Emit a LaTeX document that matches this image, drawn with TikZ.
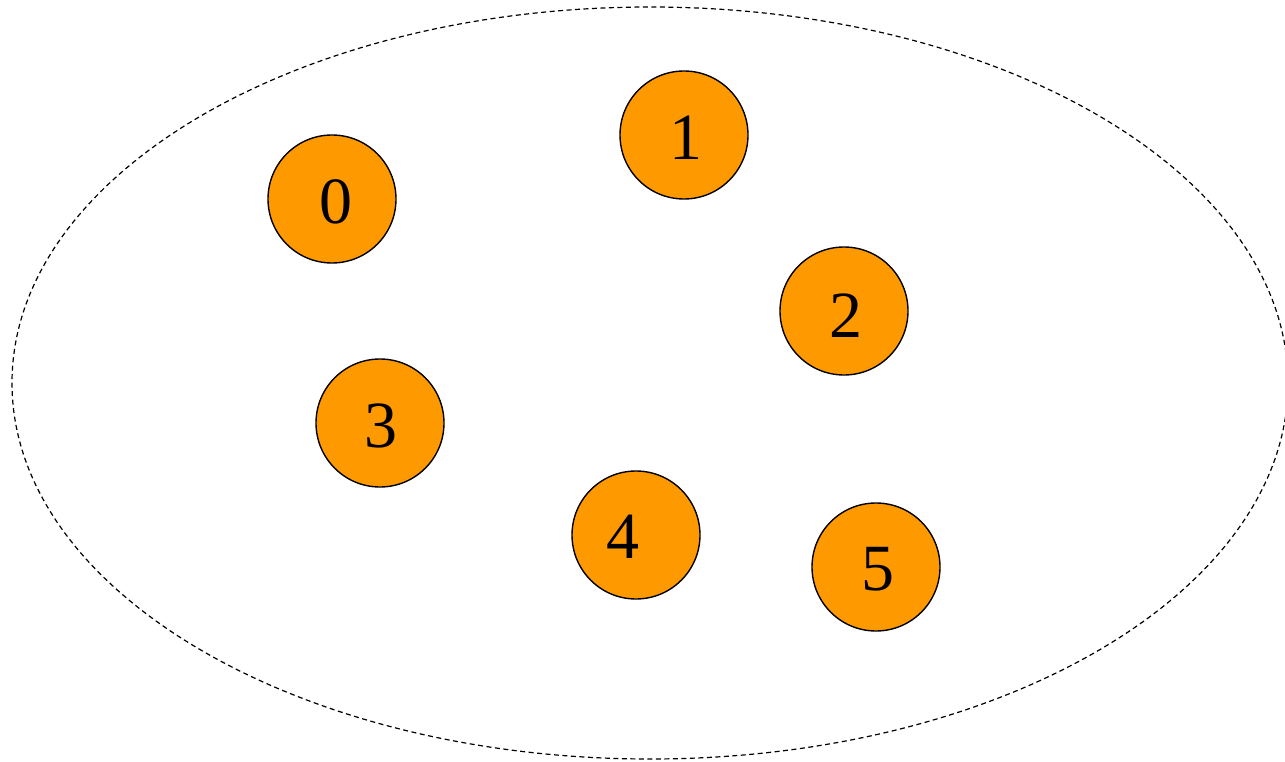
\documentclass[tikz,border=0pt]{standalone}
\usepackage{fontspec}
\setmainfont{Liberation Serif}
\definecolor{nodeorange}{RGB}{255,153,0}
\begin{document}
\begin{tikzpicture}[x=1pt,y=-1pt,
  ball/.style={circle,draw=black,line width=1.4pt,fill=nodeorange,minimum size=128pt,inner sep=0pt},
  digit/.style={inner sep=0pt,font=\fontsize{66}{70}\selectfont},
  group/.style={draw=black,dashed,dash pattern=on 5pt off 3.5pt,line width=1.2pt}]
\useasboundingbox (0,0) rectangle (1285,762);
\draw[group] (650,383) ellipse [x radius=638, y radius=376];
\node[ball] (n0) at (332,199) {};
\node[ball] (n1) at (684,135) {};
\node[ball] (n2) at (844,311) {};
\node[ball] (n3) at (380,423) {};
\node[ball] (n4) at (636,535) {};
\node[ball] (n5) at (876,567) {};
\node[digit] (t0) at (336,202) {0};
\node[digit] (t1) at (686,138) {1};
\node[digit] (t2) at (846,316) {2};
\node[digit] (t3) at (381,426) {3};
\node[digit] (t4) at (623,537) {4};
\node[digit] (t5) at (878,569) {5};
\end{tikzpicture}
\end{document}
